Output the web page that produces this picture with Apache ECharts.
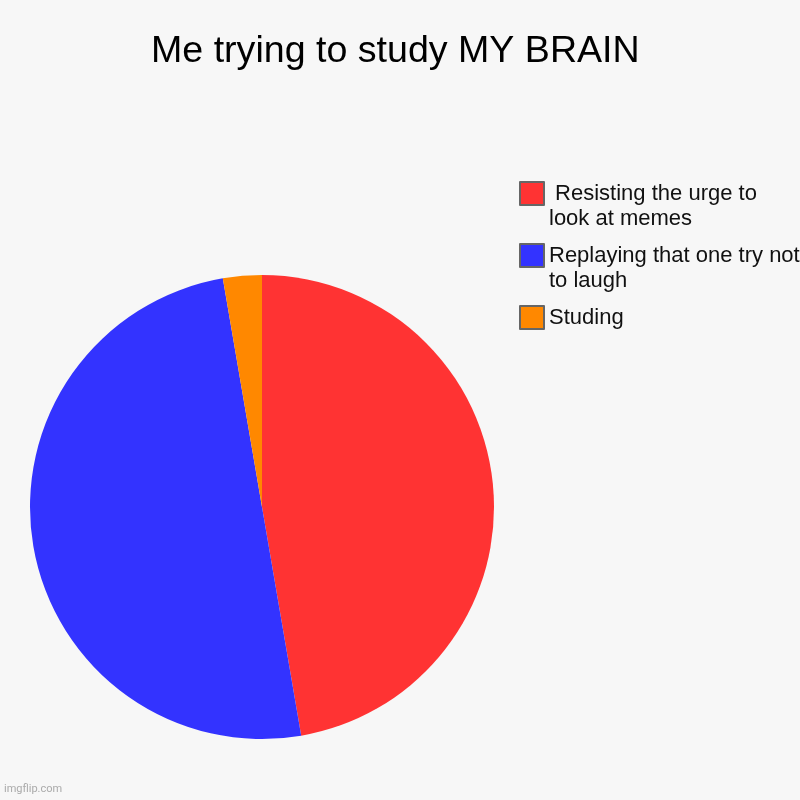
<!DOCTYPE html>
<html>
<head>
<meta charset="utf-8">
<script src="https://cdn.jsdelivr.net/npm/echarts@6/dist/echarts.min.js"></script>
<style>
  html, body { margin: 0; padding: 0; background: #f7f7f7; }
  #chart-container { width: 800px; height: 800px; }
</style>
</head>
<body>
<div id="chart-container"></div>
<script>
var titleText = "Me trying to study MY BRAIN";
var categories = [" Resisting the urge to\nlook at memes", "Replaying that one try not\nto laugh", "Studing"];
var values = [35, 37, 2];
var colors = ["#ff3333", "#3333ff", "#ff8800"];

var dom = document.getElementById("chart-container");
var myChart = echarts.init(dom, null, { renderer: "canvas" });

var pieData = categories.map(function (name, i) {
  return { name: name, value: values[i], itemStyle: { color: colors[i] } };
});

var option = {
  backgroundColor: "#f7f7f7",
  animation: false,
  title: {
    text: titleText,
    left: 146,
    top: 28,
    textStyle: {
      fontFamily: "Liberation Sans, Arial, sans-serif",
      fontSize: 37.6,
      fontWeight: "normal",
      color: "#000000",
    },
  },
  legend: {
    orient: "vertical",
    left: 519,
    top: 156,
    padding: 0,
    itemGap: -13,
    itemWidth: 24,
    itemHeight: 23,
    icon: "rect",
    selectedMode: false,
    itemStyle: { borderColor: "#666666", borderWidth: 2 },
    // leading blank line keeps the box level with the first text line
    formatter: function (name) {
      return name.indexOf("\n") >= 0 ? "\n" + name : "\n" + name + "\n";
    },
    textStyle: {
      fontFamily: "Liberation Sans, Arial, sans-serif",
      fontSize: 22,
      lineHeight: 25,
      color: "#111111",
    },
    data: categories,
  },
  graphic: [
    {
      type: "text",
      left: 4,
      top: 784,
      style: {
        text: "imgflip.com",
        fontFamily: "Roboto, sans-serif",
        fontSize: 11,
        fill: "#aaaaaa",
      },
    },
  ],
  series: [
    {
      type: "pie",
      center: [262, 507],
      radius: 232,
      startAngle: 90,
      clockwise: true,
      label: { show: false },
      labelLine: { show: false },
      emphasis: { disabled: true },
      itemStyle: { borderWidth: 0 },
      data: pieData,
    },
  ],
};

myChart.setOption(option);
window.addEventListener("resize", myChart.resize);
</script>
</body>
</html>
